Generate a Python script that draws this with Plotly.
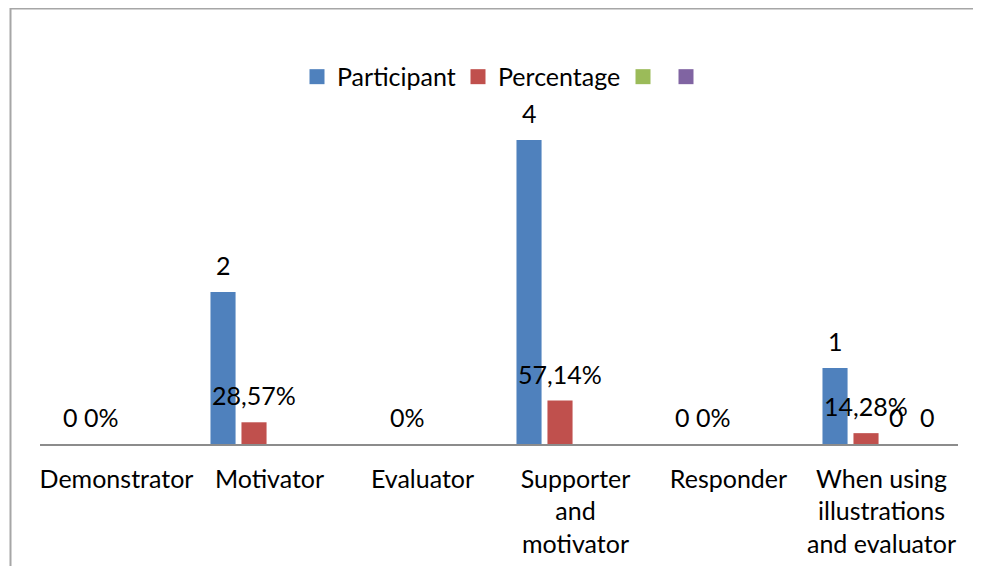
import plotly.graph_objects as go

categories = ["Demonstrator", "Motivator", "Evaluator", "Supporter<br>and<br>motivator",
              "Responder", "When using<br>illustrations<br>and evaluator"]
participant = [0, 2, None, 4, 0, 1]
percentage = [0.0, 0.2857, 0.0, 0.5714, 0.0, 0.1428]
series3 = [None, None, None, None, None, 0]
series4 = [None, None, None, None, None, 0]
series_names = ["Participant", "Percentage", "", ""]
colors = ["#4F81BD", "#C0504D", "#9BBB59", "#8064A2"]


def pct_text(v):
    if v is None:
        return None
    if v == 0:
        return "0%"
    return f"{v*100:.2f}".replace(".", ",") + "%"


def num_text(v):
    return None if v is None else str(v)


FONT = "Lato"
FS = 25
W, H = 965, 558
L, R, T, B = 32, 15, 56, 122
PW, PH = W - L - R, H - T - B
SLOT = PW / len(categories) * (1 - 0.19) / 4
LEG_X = [297, 458, 623, 666]  # left edges of the legend entries (page pixels)

fig = go.Figure()
all_vals = [participant, percentage, series3, series4]
all_text = [[num_text(v) for v in participant], [pct_text(v) for v in percentage],
            [num_text(v) for v in series3], [num_text(v) for v in series4]]

annotations = []
legends = {}
for i, (name, vals, col, txt) in enumerate(zip(series_names, all_vals, colors, all_text)):
    lname = "legend" if i == 0 else f"legend{i+1}"
    fig.add_trace(go.Bar(
        x=categories, y=vals, name=name or " ",
        marker=dict(color=col, line=dict(width=0)), showlegend=False,
        hoverinfo="x+y",
    ))
    fig.add_trace(go.Scatter(
        x=[categories[0]], y=[None], mode="markers", name=name,
        marker=dict(symbol="square", size=15, color=col), showlegend=True,
        legend=lname, hoverinfo="skip",
    ))
    legends[lname] = dict(orientation="h", x=(LEG_X[i] - 8 - L) / PW, xanchor="left",
                          y=0.966, yanchor="middle", itemwidth=30,
                          font=dict(family=FONT, size=FS, color="black"),
                          bgcolor="rgba(0,0,0,0)", borderwidth=0)
    off = (i - 1.5) * SLOT
    for c, v, t in zip(categories, vals, txt):
        if t is None:
            continue
        annotations.append(dict(
            x=c, y=v, xref="x", yref="y", text=t, showarrow=False,
            xanchor="center", yanchor="middle", xshift=off, yshift=27,
            font=dict(family=FONT, size=FS, color="black"),
        ))

fig.update_layout(
    width=W, height=H,
    margin=dict(l=L, r=R, t=T, b=B, autoexpand=False),
    paper_bgcolor="white", plot_bgcolor="white",
    barmode="group", bargap=0.19, bargroupgap=0.19,
    font=dict(family=FONT, size=FS, color="black"),
    showlegend=True,
    xaxis=dict(showline=True, linecolor="#8c8c8c", linewidth=1.5, showgrid=False,
               ticks="outside", ticklen=12, tickcolor="rgba(0,0,0,0)", automargin=False,
               tickfont=dict(family=FONT, size=FS, color="black"), fixedrange=True),
    yaxis=dict(range=[0, 5], visible=False, showgrid=False, zeroline=False,
               automargin=False, fixedrange=True),
    annotations=annotations,
    shapes=[dict(type="rect", xref="paper", yref="paper",
                 x0=(2.5 - L) / PW, x1=1.5, y0=-1.0, y1=(H - B - 0.5) / PH,
                 line=dict(color="#a6a6a6", width=2), fillcolor="rgba(0,0,0,0)", layer="below")],
    **legends,
)

fig.write_html("out.html")
